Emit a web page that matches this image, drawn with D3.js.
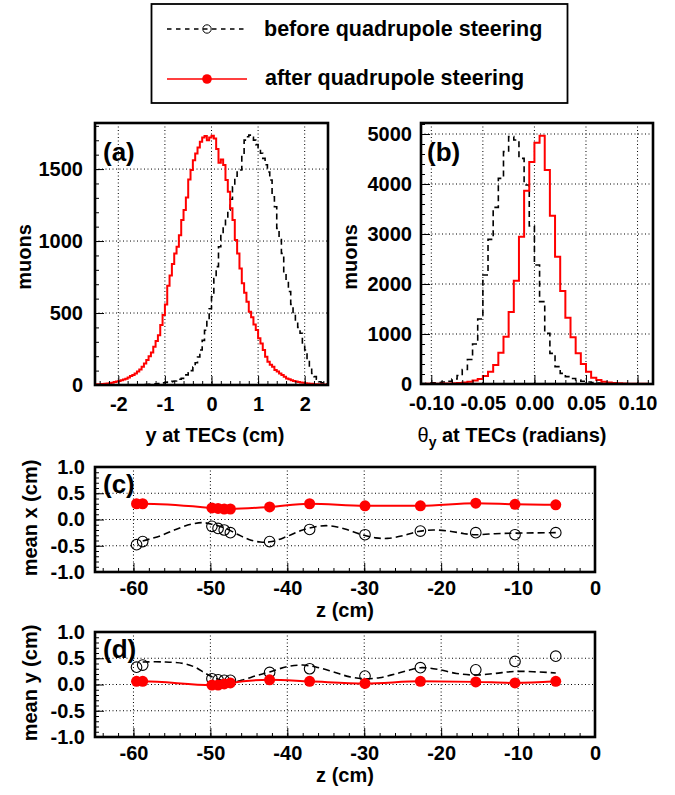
<!DOCTYPE html>
<html><head><meta charset="utf-8">
<script src="https://cdn.jsdelivr.net/npm/d3@7"></script>
<style>
html,body{margin:0;padding:0;background:#fff;}
svg{display:block;}
text{font-family:"Liberation Sans",Arial,Helvetica,sans-serif;font-weight:bold;fill:#000;}
</style>
</head><body>
<svg id="chart" width="675" height="795"></svg>
<script>
// ---------------- DATA ----------------
const seriesNames = ["before quadrupole steering", "after quadrupole steering"];

// (a) y at TECs histogram: bins of 0.05 cm starting at -2.5
const yTecBinStart = -2.5, yTecBinWidth = 0.05;
const yTecBefore = [
  0,0,0,0,0,0,0,0,0,0,
  0,0,1,1,1,1,1,1,2,2,
  2,3,3,4,5,6,8,10,12,15,
  18,20,22,25,28,33,40,46,58,70,
  85,100,125,155,195,243,310,380,451,530,
  613,740,822,960,1050,1100,1160,1215,1290,1377,
  1450,1480,1493,1600,1701,1724,1736,1720,1701,1670,
  1650,1610,1574,1530,1480,1424,1308,1238,1088,1018,
  914,775,720,650,560,498,440,400,359,285,
  243,174,116,80,58,40,23,15,10,6];
const yTecAfter = [
  4,5,6,7,9,11,13,16,20,24,
  28,33,38,44,52,62,70,80,93,108,
  127,150,174,200,225,266,305,345,417,486,
  560,690,760,840,914,960,1040,1146,1215,1303,
  1428,1493,1562,1609,1650,1690,1720,1729,1701,1720,
  1731,1713,1640,1544,1567,1528,1424,1342,1227,1146,
  1007,914,810,706,640,579,509,470,420,382,
  324,289,243,197,162,140,127,105,93,80,
  69,58,46,40,33,28,24,20,17,15,
  13,11,9,8,6,5,4,3,3,2];

// (b) theta_y at TECs histogram: bins of 0.005 rad starting at -0.11
const thetaBinStart = -0.11, thetaBinWidth = 0.005;
const thetaBefore = [
  10,15,22,30,40,55,100,170,290,490,
  800,1300,2180,2893,3533,4113,4647,4947,4880,4513,
  3980,3160,2380,1647,1013,613,347,213,147,110,
  80,55,40,28,20,14,10,7,5,4,
  3,2,2,1,1];
const thetaAfter = [
  2,3,4,6,8,10,14,20,30,45,
  70,100,160,247,380,627,947,1440,2067,2947,
  3867,4440,4827,4967,4280,3367,2547,1860,1327,933,
  613,400,247,127,80,47,30,20,14,10,
  7,5,4,3,2];

// (c),(d) mean positions vs z
const zPositions  = [-59.6,-58.8,-49.8,-49.0,-48.2,-47.4,-42.3,-37.1,-29.9,-22.7,-15.5,-10.4,-5.1];
const meanXBefore = [-0.48,-0.42,-0.13,-0.17,-0.20,-0.25,-0.42,-0.19,-0.29,-0.22,-0.25,-0.29,-0.25];
const meanXAfter  = [0.30,0.30,0.22,0.21,0.20,0.20,0.24,0.30,0.26,0.26,0.31,0.29,0.28];
const meanYBefore = [0.33,0.37,0.11,0.09,0.08,0.08,0.23,0.30,0.16,0.32,0.28,0.44,0.54];
const meanYAfter  = [0.06,0.06,-0.01,-0.01,0.01,0.03,0.09,0.06,0.02,0.06,0.05,0.03,0.06];

// smooth curves drawn through the "before" points
const fitXz = [-58.8,-56.5,-54.5,-52.5,-51.0,-49.8,-48.0,-46.5,-45.0,-43.5,-42.0,-40.0,-38.0,-36.0,-34.5,-32.5,-30.5,-28.5,-27.0,-25.0,-23.0,-21.0,-19.0,-17.0,-15.5,-13.0,-10.4,-5.1];
const fitXv = [-0.41,-0.31,-0.19,-0.09,-0.06,-0.09,-0.17,-0.28,-0.38,-0.43,-0.42,-0.32,-0.20,-0.13,-0.12,-0.18,-0.28,-0.35,-0.36,-0.31,-0.23,-0.20,-0.22,-0.27,-0.29,-0.27,-0.26,-0.25];
const fitYz = [-58.8,-56.0,-53.5,-52.0,-50.5,-49.0,-47.5,-46.0,-44.0,-42.3,-40.0,-38.0,-36.2,-34.0,-32.0,-30.0,-28.0,-26.0,-24.0,-22.7,-20.5,-18.0,-15.5,-13.0,-10.4,-5.1];
const fitYv = [0.43,0.43,0.40,0.33,0.20,0.10,0.05,0.08,0.17,0.24,0.34,0.37,0.33,0.24,0.15,0.11,0.13,0.20,0.28,0.32,0.29,0.21,0.18,0.21,0.25,0.22];

// tick values
const aXTicks = [-2,-1,0,1,2];
const aYTicks = [0,500,1000,1500];
const bXTicks = [-0.10,-0.05,0.00,0.05,0.10];
const bYTicks = [0,1000,2000,3000,4000,5000];
const zTicks  = [-60,-50,-40,-30,-20,-10,0];
const meanTicks = [-1.0,-0.5,0.0,0.5,1.0];

// ---------------- DRAWING ----------------
const svg = d3.select("#chart");
const RED = "#ff0000";
const loc = d3.formatLocale({decimal:".", thousands:",", grouping:[3], currency:["",""], minus:"-"});

function range(a, b, s){ const out=[]; for(let v=a; v<=b+s*1e-6; v+=s) out.push(+v.toFixed(6)); return out; }

function makePanel(cfg){
  const g = svg.append("g");
  const x = d3.scaleLinear().domain(cfg.xDomain).range([cfg.left, cfg.right]);
  const y = d3.scaleLinear().domain(cfg.yDomain).range([cfg.bottom, cfg.top]);
  const id = "clip-" + cfg.name;
  svg.append("clipPath").attr("id", id).append("rect")
    .attr("x", cfg.left).attr("y", cfg.top)
    .attr("width", cfg.right - cfg.left).attr("height", cfg.bottom - cfg.top);
  const grid = g.append("g").attr("stroke", "#000").attr("stroke-width", 1).attr("stroke-dasharray", "1,2.5");
  cfg.xTicks.filter(v => v > cfg.xDomain[0] + 1e-9 && v < cfg.xDomain[1] - 1e-9).forEach(v => {
    grid.append("line").attr("x1", x(v)).attr("x2", x(v)).attr("y1", cfg.top).attr("y2", cfg.bottom);
  });
  cfg.yTicks.filter(v => v > cfg.yDomain[0] + 1e-9 && v < cfg.yDomain[1] - 1e-9).forEach(v => {
    grid.append("line").attr("y1", y(v)).attr("y2", y(v)).attr("x1", cfg.left).attr("x2", cfg.right);
  });
  const data = g.append("g").attr("clip-path", `url(#${id})`);
  const styleAxis = s => {
    s.select(".domain").remove();
    s.attr("font-family", null).attr("font-size", null);
    s.selectAll("text").style("font-size", cfg.tickFont + "px");
    s.selectAll("line").attr("stroke-width", 1);
  };
  const yMinor = d3.axisLeft(y).tickValues(range(cfg.yDomain[0], cfg.yDomain[1], cfg.yMinorStep)).tickSize(-4).tickFormat("");
  g.append("g").attr("transform", `translate(${cfg.left},0)`).call(yMinor).call(styleAxis);
  const yMajor = d3.axisLeft(y).tickValues(cfg.yTicks).tickSize(-9).tickPadding(cfg.yPad).tickFormat(cfg.yFmt);
  g.append("g").attr("transform", `translate(${cfg.left},0)`).call(yMajor).call(styleAxis);
  const xMinor = d3.axisBottom(x).tickValues(range(cfg.xMinorStart, cfg.xDomain[1], cfg.xMinorStep)).tickSize(-4).tickFormat("");
  g.append("g").attr("transform", `translate(0,${cfg.bottom})`).call(xMinor).call(styleAxis);
  const xMajor = d3.axisBottom(x).tickValues(cfg.xTicks).tickSize(-9).tickPadding(cfg.xPad).tickFormat(cfg.xFmt);
  g.append("g").attr("transform", `translate(0,${cfg.bottom})`).call(xMajor).call(styleAxis);
  return {g, data, x, y, cfg};
}

function frame(p){
  const c = p.cfg;
  p.g.append("rect").attr("x", c.left).attr("y", c.top)
    .attr("width", c.right - c.left).attr("height", c.bottom - c.top)
    .attr("fill", "none").attr("stroke", "#000").attr("stroke-width", 2.6);
}

function histPath(p, start, width, values, color, dash, sw){
  const pts = values.map((v, i) => [start + i * width, v]);
  pts.push([start + values.length * width, values[values.length - 1]]);
  const line = d3.line().x(d => p.x(d[0])).y(d => p.y(d[1])).curve(d3.curveStepAfter);
  const full = [[start, 0]].concat(pts).concat([[start + values.length * width, 0]]);
  const path = p.data.append("path").attr("d", line(full))
    .attr("fill", "none").attr("stroke", color).attr("stroke-width", sw);
  if (dash) path.attr("stroke-dasharray", dash);
}

function label(x, y, txt, size, anchor, rot){
  const t = svg.append("text").attr("font-size", size).attr("text-anchor", anchor || "start").text(txt);
  if (rot) t.attr("transform", `translate(${x},${y}) rotate(${rot})`);
  else t.attr("x", x).attr("y", y);
  return t;
}

// ---- Legend ----
svg.append("rect").attr("x", 151.5).attr("y", 4).attr("width", 416).attr("height", 99)
  .attr("fill", "#fff").attr("stroke", "#000").attr("stroke-width", 1.8);
svg.append("line").attr("x1", 167).attr("x2", 244).attr("y1", 29).attr("y2", 29)
  .attr("stroke", "#000").attr("stroke-width", 1.3).attr("stroke-dasharray", "4.5,4.5");
svg.append("circle").attr("cx", 207).attr("cy", 29).attr("r", 4.2).attr("fill", "none").attr("stroke", "#000").attr("stroke-width", 1);
svg.append("line").attr("x1", 167).attr("x2", 247).attr("y1", 79).attr("y2", 79)
  .attr("stroke", RED).attr("stroke-width", 1.6);
svg.append("circle").attr("cx", 207).attr("cy", 79).attr("r", 4.8).attr("fill", RED);
label(264, 36, seriesNames[0], 21.5);
label(265, 85, seriesNames[1], 21.5);

// ---- Panel (a) ----
const pa = makePanel({name:"a", left:95, right:328, top:123, bottom:385,
  xDomain:[-2.5,2.5], yDomain:[0,1820], xTicks:aXTicks, yTicks:aYTicks,
  xMinorStart:-2.4, xMinorStep:0.2, yMinorStep:100, tickFont:20, xPad:12, yPad:12,
  xFmt:loc.format("d"), yFmt:loc.format("d")});
histPath(pa, yTecBinStart, yTecBinWidth, yTecBefore, "#000", "6,4", 1.6);
histPath(pa, yTecBinStart, yTecBinWidth, yTecAfter, RED, null, 2);
frame(pa);
label(103, 161, "(a)", 26);
label(31, 257, "muons", 20, "middle", -90);
label(215, 442, "y at TECs (cm)", 20, "middle");

// ---- Panel (b) ----
const pb = makePanel({name:"b", left:421, right:653, top:123, bottom:384,
  xDomain:[-0.11,0.115], yDomain:[0,5220], xTicks:bXTicks, yTicks:bYTicks,
  xMinorStart:-0.11, xMinorStep:0.01, yMinorStep:200, tickFont:20, xPad:12, yPad:9,
  xFmt:loc.format(".2f"), yFmt:loc.format("d")});
histPath(pb, thetaBinStart, thetaBinWidth, thetaBefore, "#000", "6,4", 1.6);
histPath(pb, thetaBinStart, thetaBinWidth, thetaAfter, RED, null, 2);
frame(pb);
label(427, 161, "(b)", 26);
label(357, 257, "muons", 20, "middle", -90);
const tt = svg.append("text").attr("x", 512).attr("y", 442).attr("font-size", 20).attr("text-anchor", "middle");
tt.append("tspan").text("θ").style("font-weight", "normal");
tt.append("tspan").text("y").attr("font-size", 14).attr("dy", 5);
tt.append("tspan").text(" at TECs (radians)").attr("dy", -5);

// ---- Panels (c) and (d) ----
function meanPanel(name, top, before, after, fz, fv, ylab, tag){
  const p = makePanel({name, left:95, right:595, top, bottom:top + 105,
    xDomain:[-65,0], yDomain:[-1,1], xTicks:zTicks, yTicks:meanTicks,
    xMinorStart:-64, xMinorStep:2, yMinorStep:0.1, tickFont:20, xPad:9, yPad:10,
    xFmt:loc.format("d"), yFmt:loc.format(".1f")});
  const fitLine = d3.line().x(d => p.x(d[0])).y(d => p.y(d[1])).curve(d3.curveCatmullRom.alpha(0.5));
  p.data.append("path").attr("d", fitLine(fz.map((z, i) => [z, fv[i]])))
    .attr("fill", "none").attr("stroke", "#000").attr("stroke-width", 1.6).attr("stroke-dasharray", "7,4");
  const redLine = d3.line().x(d => p.x(d[0])).y(d => p.y(d[1])).curve(d3.curveMonotoneX);
  p.data.append("path").attr("d", redLine(zPositions.map((z, i) => [z, after[i]])))
    .attr("fill", "none").attr("stroke", RED).attr("stroke-width", 2);
  p.data.selectAll("circle.b").data(zPositions.map((z, i) => [z, before[i]])).join("circle")
    .attr("class", "b").attr("cx", d => p.x(d[0])).attr("cy", d => p.y(d[1])).attr("r", 5.3)
    .attr("fill", "none").attr("stroke", "#000").attr("stroke-width", 1.1);
  p.data.selectAll("circle.a").data(zPositions.map((z, i) => [z, after[i]])).join("circle")
    .attr("class", "a").attr("cx", d => p.x(d[0])).attr("cy", d => p.y(d[1])).attr("r", 5.5)
    .attr("fill", RED);
  frame(p);
  label(103, top + 26, tag, 26);
  label(37, top + 51, ylab, 20, "middle", -90);
  label(345, top + 150, "z (cm)", 20, "middle");
  return p;
}
meanPanel("c", 467, meanXBefore, meanXAfter, fitXz, fitXv, "mean x (cm)", "(c)");
meanPanel("d", 632, meanYBefore, meanYAfter, fitYz, fitYv, "mean y (cm)", "(d)");
</script>
</body></html>
